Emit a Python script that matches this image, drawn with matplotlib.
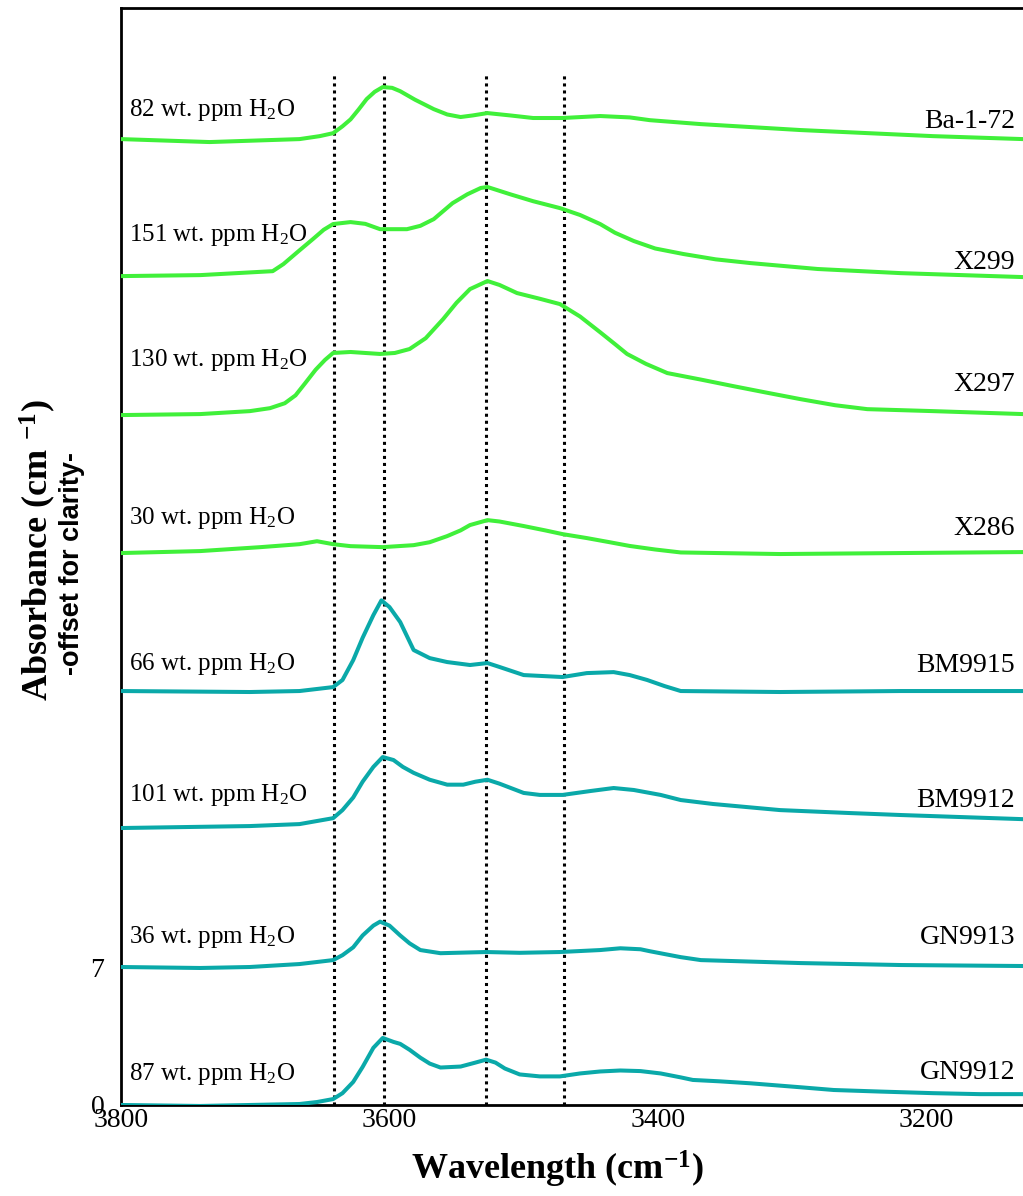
import numpy as np
import matplotlib
matplotlib.use('Agg')
import matplotlib.pyplot as plt

plt.rcParams['font.family'] = ['Liberation Serif', 'DejaVu Serif']
plt.rcParams['mathtext.fontset'] = 'custom'
plt.rcParams['mathtext.rm'] = 'Liberation Serif'
plt.rcParams['mathtext.it'] = 'Liberation Serif:italic'
plt.rcParams['mathtext.bf'] = 'Liberation Serif:bold'

# sample names, water contents and vertical offsets (bottom to top)
samples = ['GN9912', 'GN9913', 'BM9912', 'BM9915', 'X286', 'X297', 'X299', 'Ba-1-72']
water_ppm = [87, 36, 101, 66, 30, 130, 151, 82]
offsets = [0, 7, 14, 21, 28, 35, 42, 49]

# spectra (wavenumber cm-1, absorbance above own baseline)
gn9912_wn = [3800, 3741, 3704, 3667, 3654, 3642, 3635, 3627, 3620, 3612, 3605, 3597, 3592,
             3585, 3577, 3570, 3562, 3547, 3536, 3528, 3521, 3514, 3503, 3488, 3473, 3458,
             3443, 3428, 3413, 3398, 3383, 3374, 3354, 3331, 3294, 3269, 3234, 3195, 3160, 3128]
gn9912_abs = [0, -0.05, 0, 0.05, 0.15, 0.3, 0.6, 1.17, 1.93, 2.9, 3.4, 3.2, 3.1,
              2.8, 2.4, 2.1, 1.9, 1.95, 2.15, 2.3, 2.15, 1.85, 1.55, 1.45, 1.45, 1.6,
              1.7, 1.75, 1.72, 1.6, 1.4, 1.27, 1.2, 1.1, 0.9, 0.76, 0.68, 0.6, 0.55, 0.55]

gn9913_wn = [3800, 3741, 3704, 3667, 3642, 3635, 3627, 3620, 3612, 3607, 3600, 3592, 3585,
             3577, 3562, 3528, 3503, 3473, 3443, 3428, 3413, 3406, 3383, 3368, 3294, 3219, 3128]
gn9913_abs = [0, -0.05, 0, 0.15, 0.35, 0.6, 1.0, 1.6, 2.1, 2.3, 2.1, 1.6, 1.2,
              0.86, 0.7, 0.76, 0.72, 0.76, 0.86, 0.95, 0.9, 0.8, 0.5, 0.35, 0.2, 0.1, 0.05]

bm9912_wn = [3800, 3704, 3667, 3642, 3635, 3627, 3620, 3612, 3605, 3597, 3590, 3582, 3570,
             3557, 3545, 3536, 3527, 3518, 3500, 3488, 3471, 3450, 3433, 3418, 3398, 3383,
             3359, 3309, 3257, 3219, 3128]
bm9912_abs = [0.05, 0.15, 0.25, 0.55, 0.96, 1.6, 2.4, 3.15, 3.65, 3.5, 3.15, 2.85, 2.5,
              2.25, 2.25, 2.4, 2.5, 2.3, 1.83, 1.73, 1.73, 1.93, 2.08, 1.98, 1.73, 1.47,
              1.27, 0.96, 0.81, 0.71, 0.5]

bm9915_wn = [3800, 3704, 3667, 3642, 3635, 3627, 3620, 3612, 3606, 3600, 3592, 3582, 3570,
             3557, 3540, 3527, 3518, 3500, 3471, 3453, 3433, 3421, 3408, 3395, 3383, 3309,
             3219, 3128]
bm9915_abs = [0, -0.05, 0, 0.2, 0.56, 1.57, 2.7, 3.85, 4.6, 4.26, 3.5, 2.08, 1.67,
              1.47, 1.32, 1.42, 1.22, 0.81, 0.71, 0.91, 0.96, 0.81, 0.56, 0.25, 0.0, -0.05,
              0, 0]

x286_wn = [3800, 3741, 3696, 3667, 3654, 3642, 3629, 3605, 3582, 3570, 3557, 3547, 3540,
           3527, 3518, 3500, 3484, 3471, 3453, 3436, 3421, 3402, 3383, 3309, 3219, 3128]
x286_abs = [0, 0.1, 0.3, 0.45, 0.6, 0.45, 0.35, 0.3, 0.4, 0.55, 0.86, 1.15, 1.42,
            1.67, 1.6, 1.37, 1.15, 0.96, 0.76, 0.55, 0.36, 0.18, 0.03, -0.05, 0.0, 0.05]

x297_wn = [3800, 3741, 3704, 3689, 3678, 3670, 3663, 3655, 3648, 3642, 3629, 3607, 3596,
           3585, 3573, 3560, 3550, 3540, 3527, 3518, 3505, 3488, 3473, 3458, 3443, 3432,
           3423, 3409, 3393, 3368, 3344, 3320, 3294, 3268, 3244, 3195, 3128]
x297_abs = [0, 0.05, 0.2, 0.35, 0.6, 1.0, 1.6, 2.3, 2.8, 3.15, 3.2, 3.1, 3.15,
            3.35, 3.9, 4.87, 5.7, 6.39, 6.8, 6.6, 6.19, 5.9, 5.63, 5.0, 4.2, 3.6,
            3.1, 2.6, 2.13, 1.8, 1.47, 1.15, 0.81, 0.5, 0.3, 0.2, 0.05]

x299_wn = [3800, 3741, 3687, 3679, 3668, 3657, 3649, 3642, 3629, 3618, 3607, 3587, 3577,
           3567, 3553, 3542, 3532, 3527, 3510, 3493, 3473, 3458, 3443, 3432, 3418, 3402,
           3381, 3357, 3331, 3281, 3219, 3128]
x299_abs = [0.05, 0.1, 0.3, 0.66, 1.3, 1.93, 2.4, 2.69, 2.79, 2.7, 2.43, 2.43, 2.6,
            2.94, 3.75, 4.2, 4.52, 4.57, 4.2, 3.85, 3.5, 3.15, 2.69, 2.25, 1.83, 1.45,
            1.17, 0.9, 0.71, 0.41, 0.2, 0]

ba172_wn = [3800, 3734, 3667, 3652, 3642, 3635, 3629, 3623, 3617, 3611, 3605, 3598, 3592,
            3581, 3567, 3557, 3547, 3538, 3527, 3510, 3493, 3471, 3443, 3421, 3406, 3368,
            3294, 3195, 3128]
ba172_abs = [0, -0.15, 0, 0.15, 0.3, 0.65, 1.0, 1.5, 2.03, 2.4, 2.64, 2.6, 2.43,
             2.0, 1.52, 1.25, 1.12, 1.2, 1.32, 1.2, 1.07, 1.07, 1.17, 1.1, 0.96, 0.76,
             0.46, 0.15, 0]

spectra = [(gn9912_wn, gn9912_abs), (gn9913_wn, gn9913_abs), (bm9912_wn, bm9912_abs),
           (bm9915_wn, bm9915_abs), (x286_wn, x286_abs), (x297_wn, x297_abs),
           (x299_wn, x299_abs), (ba172_wn, ba172_abs)]

# OH band positions marked with dotted lines
band_positions = [3641, 3604, 3528, 3470]

teal = '#0aa9a9'
green = '#40f03a'
colors = [teal, teal, teal, teal, green, green, green, green]

# label heights above each baseline
name_dy = [1.67, 1.52, 1.47, 1.3, 1.27, 1.53, 0.76, 0.87]
ppm_dy = [1.25, 1.2, 1.4, 1.05, 1.45, 2.5, 1.85, 1.15]

fig = plt.figure(figsize=(10.23, 11.96), dpi=100)
ax = fig.add_axes([0.1183, 0.0761, 0.8817, 0.9172])

for (wn, ab), off, c in zip(spectra, offsets, colors):
    ax.plot(wn, np.array(ab) + off, color=c, lw=2.9, solid_joinstyle='round',
            solid_capstyle='round', zorder=3)

for b in band_positions:
    ax.plot([b, b], [0, 52.3], color='black', lw=2.2, linestyle=(0, (1, 1.3)), zorder=2)

for name, ppm, off, c, ndy, pdy in zip(samples, water_ppm, offsets, colors, name_dy, ppm_dy):
    ax.text(3134, off + ndy, name, ha='right', va='center', fontsize=20)
    ax.text(3794, off + pdy, f'{ppm} wt. ppm H$_2$O', ha='left', va='baseline', fontsize=18)

ax.set_xlim(3800, 3128)
ax.set_ylim(0, 55.65)
ax.set_xticks([3800, 3600, 3400, 3200])
ax.set_yticks([0, 7])
ax.tick_params(axis='x', length=0, pad=2, labelsize=20)
ax.tick_params(axis='y', direction='in', length=8, width=1, color='#888888', pad=12, labelsize=20)
for s in ['left', 'bottom', 'top']:
    ax.spines[s].set_linewidth(2)
ax.spines['right'].set_visible(False)

fig.text(0.545, 0.022, r'Wavelength (cm$^{\mathbf{-1}}$)', ha='center', va='center',
         fontsize=26, fontweight='bold')
fig.text(0.037, 0.540, r'Absorbance (cm $^{\mathbf{-1}}$)', ha='center', va='center',
         rotation=90, fontsize=26, fontweight='bold')
fig.text(0.070, 0.529, '-offset for clarity-', ha='center', va='center', rotation=90,
         fontsize=19.5, fontweight='bold', family=['Liberation Sans', 'DejaVu Sans'])

fig.savefig('out.png', dpi=100)
